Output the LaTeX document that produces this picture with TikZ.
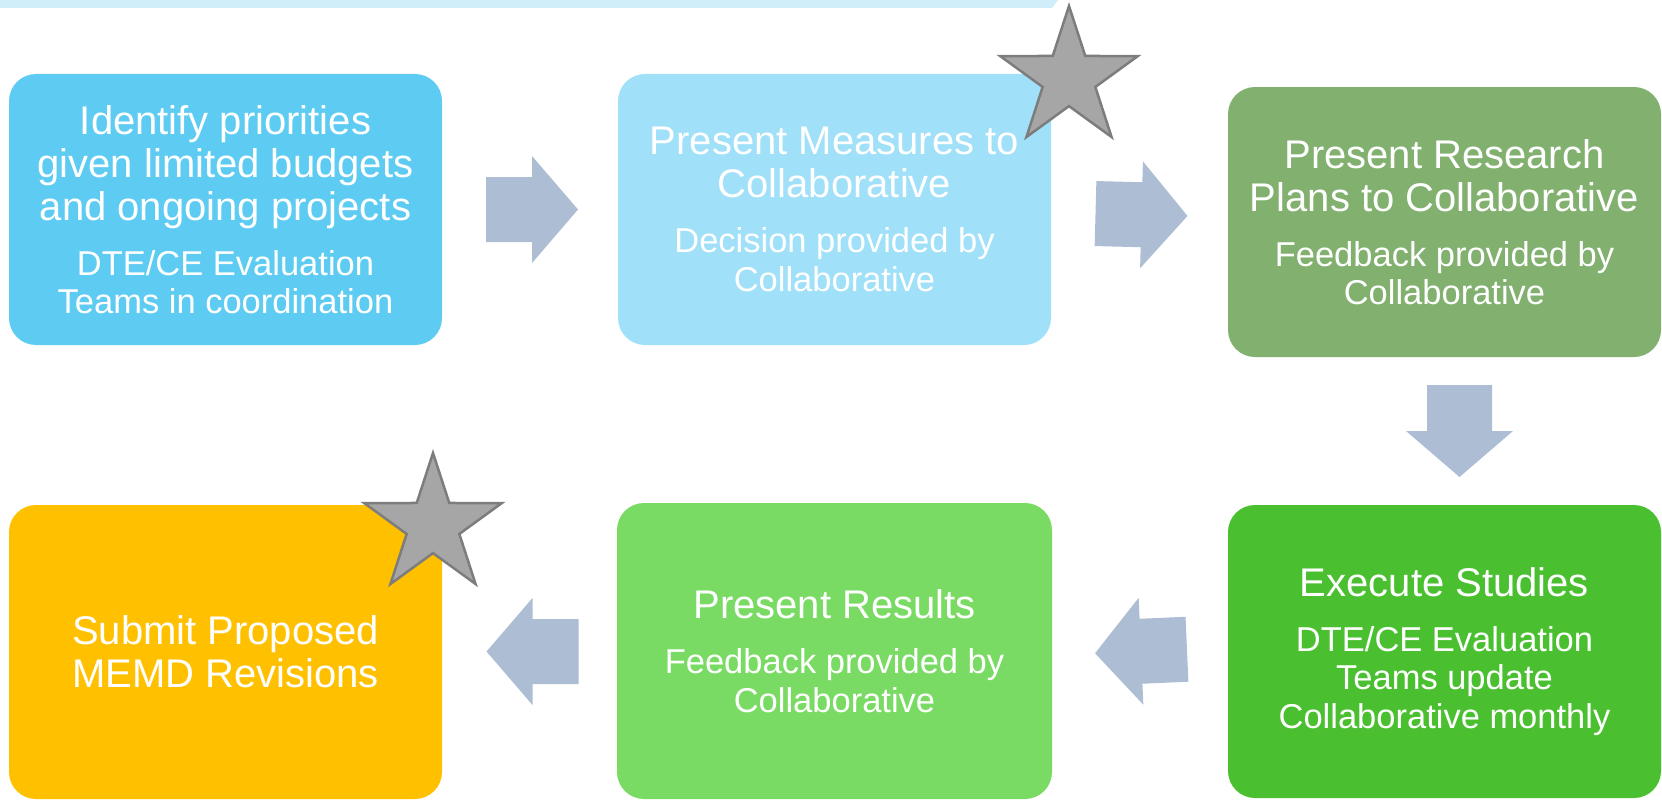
\documentclass[tikz,border=0pt]{standalone}
\usepackage{fontspec}
\setmainfont{Liberation Sans}
\usetikzlibrary{calc}
\definecolor{stripc}{RGB}{208,238,250}
\definecolor{c1}{RGB}{94,204,242}
\definecolor{c2}{RGB}{160,224,248}
\definecolor{c3}{RGB}{129,176,111}
\definecolor{c4}{RGB}{255,192,0}
\definecolor{c5}{RGB}{122,219,100}
\definecolor{c6}{RGB}{74,192,48}
\definecolor{arrowc}{RGB}{172,189,212}
\definecolor{starfill}{RGB}{166,166,166}
\definecolor{stardraw}{RGB}{125,125,125}
\newcommand{\fixsp}{\spaceskip=\fontdimen2\font\xspaceskip=\fontdimen2\font\relax}
\newcommand{\ttl}{\fontsize{40}{43}\selectfont\fixsp}
\newcommand{\sbt}{\par\vspace{16.5pt}\fontsize{34.5}{38.5}\selectfont\fixsp}
\tikzset{
  stepbox/.style={rectangle, rounded corners=27pt, inner sep=0pt, text=white,
    align=center, text width=425pt, minimum width=433pt},
  blockarrow/.pic={\fill[arrowc] (-46,-32.5) -- (0,-32.5) -- (0,-53.5) -- (46,0)
     -- (0,53.5) -- (0,32.5) -- (-46,32.5) -- cycle;},
  starsty/.style={fill=starfill, draw=stardraw, line width=2.5pt, line join=miter}
}
\begin{document}
\begin{tikzpicture}[x=1pt,y=-1pt]
\useasboundingbox (0,0) rectangle (1662,800);
\fill[stripc] (0,0) -- (1058,0) -- (1052,8) -- (0,8) -- cycle;

\node[stepbox, fill=c1, minimum height=271pt] (b1) at (225.5,209.5)
  {\ttl Identify priorities\\given limited budgets\\and ongoing projects\sbt DTE/CE Evaluation\\Teams in coordination\par};
\node[stepbox, fill=c2, minimum height=271pt] (b2) at (834.5,209.5)
  {\ttl Present Measures to\\Collaborative\sbt Decision provided by\\Collaborative\par};
\node[stepbox, fill=c3, minimum height=270pt] (b3) at (1444.5,222)
  {\ttl Present Research\\Plans to Collaborative\sbt Feedback provided by\\Collaborative\par};
\node[stepbox, fill=c4, minimum height=294pt] (b4) at (225.5,652)
  {\ttl Submit Proposed\\MEMD Revisions\par};
\node[stepbox, fill=c5, minimum height=296pt, minimum width=435pt] (b5) at (834.5,651)
  {\ttl Present Results\sbt Feedback provided by\\Collaborative\par};
\node[stepbox, fill=c6, minimum height=293pt] (b6) at (1444.5,651.5)
  {\ttl Execute Studies\sbt DTE/CE Evaluation\\Teams update\\Collaborative monthly\par};

\coordinate (a1) at ($(b1.east)!0.5!(b2.west)+(2,0)$);
\coordinate (a2) at ($(b2.east)!0.5!(b3.west)+(2,-1)$);
\coordinate (a3) at ($(b3.south)!0.5!(b6.north)+(15,0)$);
\coordinate (a4) at ($(b6.west)!0.5!(b5.east)+(1,0)$);
\coordinate (a5) at ($(b5.west)!0.5!(b4.east)+(3,0)$);
\pic at (a1) {blockarrow};
\pic[rotate=-1.5] at (a2) {blockarrow};
\pic[rotate=-90] at (a3) {blockarrow};
\pic[rotate=182.5] at (a4) {blockarrow};
\pic[rotate=180] at (a5) {blockarrow};

\coordinate (s1) at (1069,78.4);
\coordinate (s2) at (433,525.4);
\foreach \c in {s1,s2}{
  \draw[starsty] (\c) +(-90:72.4)
    \foreach \k [evaluate=\k as \r using {mod(\k,2)==1 ? 27.7 : 72.4}] in {1,...,9}
      { -- +({-90+36*\k}:\r) } -- cycle;
}
\end{tikzpicture}
\end{document}
